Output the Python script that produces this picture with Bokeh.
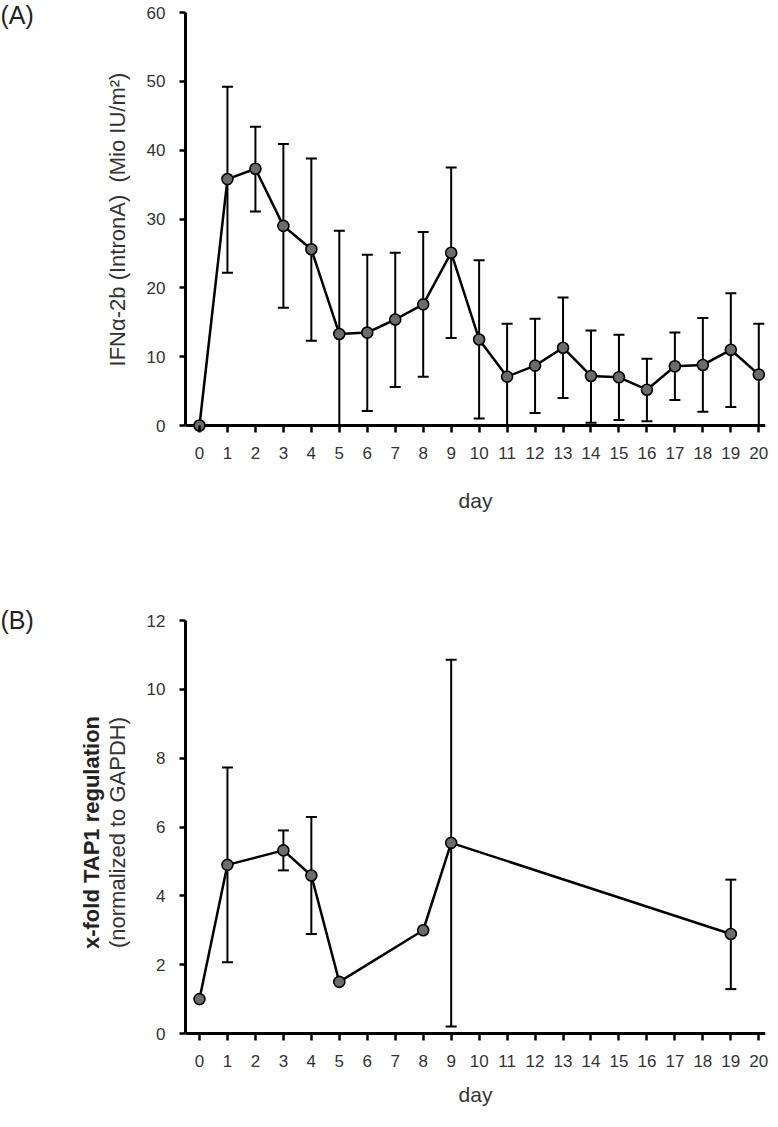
from math import pi
from bokeh.plotting import figure
from bokeh.models import (ColumnDataSource, Whisker, TeeHead, Span,
                          FixedTicker, Label)
from bokeh.layouts import column, row
from bokeh.embed import file_html
from bokeh.resources import INLINE

# ---------------- data ----------------
days_a = list(range(21))
ifn_mean = [0, 35.8, 37.3, 29.0, 25.6, 13.3, 13.5, 15.4, 17.6, 25.1, 12.5,
            7.1, 8.7, 11.3, 7.2, 7.0, 5.2, 8.6, 8.8, 11.0, 7.4]
err_days_a = list(range(1, 21))
ifn_upper = [49.2, 43.4, 40.9, 38.8, 28.3, 24.8, 25.1, 28.1, 37.5, 24.0,
             14.8, 15.5, 18.6, 13.8, 13.2, 9.7, 13.5, 15.6, 19.2, 14.8]
ifn_lower = [22.2, 31.1, 17.1, 12.3, 0.0, 2.1, 5.6, 7.1, 12.7, 1.0,
             0.0, 1.8, 4.0, 0.4, 0.8, 0.6, 3.7, 2.0, 2.7, 0.0]

days_b = [0, 1, 3, 4, 5, 8, 9, 19]
tap1_mean = [1.0, 4.9, 5.32, 4.59, 1.5, 3.0, 5.54, 2.89]
err_days_b = [1, 3, 4, 9, 19]
tap1_upper = [7.73, 5.9, 6.29, 10.86, 4.47]
tap1_lower = [2.07, 4.74, 2.89, 0.2, 1.29]

x_ticks = list(range(0, 21))
y_ticks_a = [0, 10, 20, 30, 40, 50, 60]
y_ticks_b = [0, 2, 4, 6, 8, 10, 12]

FONT = "Liberation Sans"
TXT = "#333333"
DARK = "#222222"
MARK = "#6c6c6c"
X_START, X_END = -0.5, 20.24
GAP_PX = 7          # space between y=0 and frame bottom (tick length)
PLOT_PX = 413       # pixel height of the 0..ymax span
LABEL_W = 140
MAIN_W = 770 - LABEL_W
BORDER_L = 193 - 8 - LABEL_W


def make_panel(days, mean, edays, upper, lower, ymax, yticks, height,
               top_px, bottom, xlabel_standoff):
    ppu = PLOT_PX / ymax
    ystart = -GAP_PX / ppu
    yend = ymax + top_px / ppu
    p = figure(width=MAIN_W, height=height, x_range=(X_START, X_END),
               y_range=(ystart, yend), output_backend="svg",
               toolbar_location=None, min_border_left=BORDER_L,
               min_border_right=5, min_border_top=0,
               min_border_bottom=bottom)
    p.grid.visible = False
    p.outline_line_color = None
    p.background_fill_color = "white"
    p.border_fill_color = "white"

    xa = p.xaxis[0]
    xa.ticker = FixedTicker(ticks=x_ticks)
    xa.axis_line_color = None
    xa.major_tick_in = GAP_PX
    xa.major_tick_out = 0
    xa.major_tick_line_width = 2.5
    xa.major_tick_line_color = "black"
    xa.minor_tick_line_color = None
    xa.major_label_standoff = 14
    xa.major_label_text_font = FONT
    xa.major_label_text_font_size = "17px"
    xa.major_label_text_color = TXT
    xa.axis_label = "day"
    xa.axis_label_text_font = FONT
    xa.axis_label_text_font_size = "21px"
    xa.axis_label_text_font_style = "normal"
    xa.axis_label_text_color = TXT
    xa.axis_label_standoff = xlabel_standoff

    ya = p.yaxis[0]
    ya.ticker = FixedTicker(ticks=yticks)
    ya.bounds = (0, ymax)
    ya.axis_line_width = 3
    ya.axis_line_color = "black"
    ya.major_tick_in = 0
    ya.major_tick_out = 6
    ya.major_tick_line_width = 2.5
    ya.minor_tick_line_color = None
    ya.major_label_standoff = 14
    ya.major_label_text_font = FONT
    ya.major_label_text_font_size = "17px"
    ya.major_label_text_color = TXT

    esrc = ColumnDataSource(dict(x=edays, upper=upper, lower=lower))
    w = Whisker(base="x", upper="upper", lower="lower", source=esrc,
                dimension="height", line_width=2, line_color="black",
                upper_head=TeeHead(size=11, line_width=2, line_color="black"),
                lower_head=TeeHead(size=11, line_width=2, line_color="black"),
                level="underlay")
    p.add_layout(w)
    p.add_layout(Span(location=0, dimension="width", line_width=3,
                      line_color="black", level="underlay"))

    src = ColumnDataSource(dict(x=days, y=mean))
    p.line("x", "y", source=src, line_width=2.5, line_color="black")
    p.scatter("x", "y", source=src, size=11, fill_color=MARK,
              line_color="black", line_width=1.6)
    return p


def label_fig(height, bottom, page_top, page_bottom):
    """Narrow figure left of a panel that holds panel letter and y titles.
    Its frame spans page_top..page_bottom; y data = pixels above frame bottom."""
    f = figure(width=LABEL_W, height=height, x_range=(0, LABEL_W),
               y_range=(0, page_bottom - page_top), output_backend="svg",
               toolbar_location=None, x_axis_type=None, y_axis_type=None,
               min_border_left=0, min_border_right=0,
               min_border_top=0, min_border_bottom=bottom)
    f.grid.visible = False
    f.outline_line_color = None
    return f


def add_text(f, page_bottom, px, py, text, size, style="normal",
             color=TXT, angle=0.0, align="center"):
    f.add_layout(Label(x=px - 8, y=page_bottom - py, text=text,
                       text_font=FONT, text_font_size=size,
                       text_font_style=style, text_align=align,
                       text_baseline="middle", text_color=color,
                       angle=angle))


# panel A: frame from page y 8 (top) to 440 (bottom)
pa = make_panel(days_a, ifn_mean, err_days_a, ifn_upper, ifn_lower,
                60, y_ticks_a, 527, 12, 95, 27)
la = label_fig(527, 95, 8, 440)
add_text(la, 440, 8, 22, "(A)", "25px", color=DARK, align="left")
add_text(la, 440, 125, 227, "IFNα-2b (IntronA)\u00a0 (Mio IU/m²)", "22px",
         angle=pi / 2)

# panel B: frame from page y 535 to 1048
pb = make_panel(days_b, tap1_mean, err_days_b, tap1_upper, tap1_lower,
                12, y_ticks_b, 584, 93, 71, 13)
lb = label_fig(584, 71, 535, 1048)
add_text(lb, 1048, 8, 627, "(B)", "25px", color=DARK, align="left")
add_text(lb, 1048, 99, 840, "x-fold TAP1 regulation", "22px",
         style="bold", color=DARK, angle=pi / 2)
add_text(lb, 1048, 125, 840, "(normalized to GAPDH)", "22px",
         angle=pi / 2)

layout = column(row(la, pa, spacing=0), row(lb, pb, spacing=0), spacing=0)
open("out.html", "w").write(file_html(layout, INLINE))
